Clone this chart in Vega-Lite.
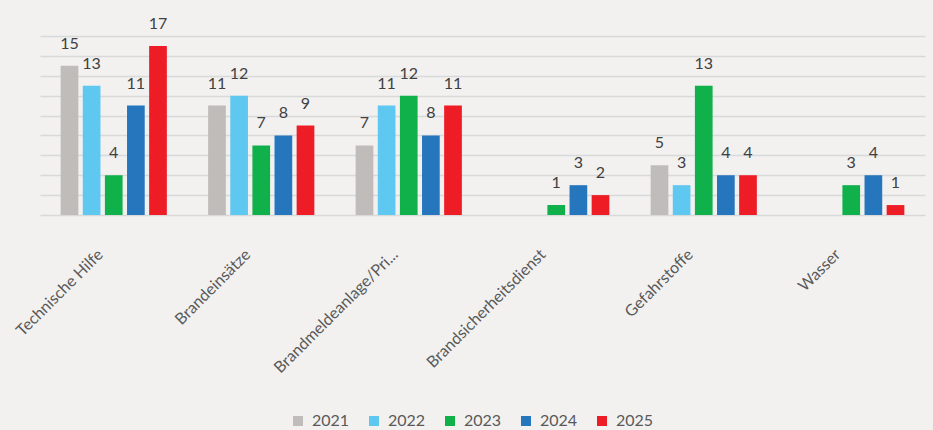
{
  "$schema": "https://vega.github.io/schema/vega-lite/v6.json",
  "width": 885,
  "height": 179,
  "autosize": {"type": "none"},
  "padding": {"left": 40, "top": 36, "right": 8, "bottom": 215},
  "background": "#f2f1f0",
  "config": {"view": {"stroke": null}, "font": "Lato"},
  "data": {
    "values": [
      {"category": "Technische Hilfe", "year": "2021", "value": 15},
      {"category": "Technische Hilfe", "year": "2022", "value": 13},
      {"category": "Technische Hilfe", "year": "2023", "value": 4},
      {"category": "Technische Hilfe", "year": "2024", "value": 11},
      {"category": "Technische Hilfe", "year": "2025", "value": 17},
      {"category": "Brandeinsätze", "year": "2021", "value": 11},
      {"category": "Brandeinsätze", "year": "2022", "value": 12},
      {"category": "Brandeinsätze", "year": "2023", "value": 7},
      {"category": "Brandeinsätze", "year": "2024", "value": 8},
      {"category": "Brandeinsätze", "year": "2025", "value": 9},
      {"category": "Brandmeldeanlage/Pri...", "year": "2021", "value": 7},
      {"category": "Brandmeldeanlage/Pri...", "year": "2022", "value": 11},
      {"category": "Brandmeldeanlage/Pri...", "year": "2023", "value": 12},
      {"category": "Brandmeldeanlage/Pri...", "year": "2024", "value": 8},
      {"category": "Brandmeldeanlage/Pri...", "year": "2025", "value": 11},
      {"category": "Brandsicherheitsdienst", "year": "2023", "value": 1},
      {"category": "Brandsicherheitsdienst", "year": "2024", "value": 3},
      {"category": "Brandsicherheitsdienst", "year": "2025", "value": 2},
      {"category": "Gefahrstoffe", "year": "2021", "value": 5},
      {"category": "Gefahrstoffe", "year": "2022", "value": 3},
      {"category": "Gefahrstoffe", "year": "2023", "value": 13},
      {"category": "Gefahrstoffe", "year": "2024", "value": 4},
      {"category": "Gefahrstoffe", "year": "2025", "value": 4},
      {"category": "Wasser", "year": "2023", "value": 3},
      {"category": "Wasser", "year": "2024", "value": 4},
      {"category": "Wasser", "year": "2025", "value": 1}
    ]
  },
  "encoding": {
    "x": {
      "field": "category",
      "type": "nominal",
      "sort": ["Technische Hilfe", "Brandeinsätze", "Brandmeldeanlage/Pri...", "Brandsicherheitsdienst", "Gefahrstoffe", "Wasser"],
      "scale": {"paddingInner": 0.28, "paddingOuter": 0.14},
      "axis": {
        "title": null,
        "labelAngle": -45,
        "labelFontSize": 16,
        "labelColor": "#595959",
        "ticks": false,
        "domain": false,
        "labelPadding": 31,
        "labelOffset": -19,
        "labelLimit": 300
      }
    },
    "xOffset": {
      "field": "year",
      "type": "nominal",
      "scale": {"domain": ["2021", "2022", "2023", "2024", "2025"], "paddingInner": 0.2}
    },
    "y": {
      "field": "value",
      "type": "quantitative",
      "scale": {"domain": [0, 18]},
      "axis": {
        "title": null,
        "labels": false,
        "ticks": false,
        "domain": false,
        "values": [0, 2, 4, 6, 8, 10, 12, 14, 16, 18],
        "gridColor": "#d9d9d9",
        "gridWidth": 1.5
      }
    }
  },
  "layer": [
    {
      "mark": {"type": "bar"},
      "encoding": {
        "color": {
          "field": "year",
          "type": "nominal",
          "scale": {
            "domain": ["2021", "2022", "2023", "2024", "2025"],
            "range": ["#bfbcba", "#5ec8f0", "#10b04b", "#2676be", "#ee1c25"]
          },
          "legend": {
            "title": null,
            "orient": "none",
            "direction": "horizontal",
            "legendX": 250,
            "legendY": 377,
            "symbolType": "square",
            "symbolSize": 100,
            "symbolStrokeWidth": 0,
            "labelFontSize": 16,
            "labelColor": "#595959",
            "labelOffset": 6,
            "columnPadding": 16
          }
        }
      }
    },
    {
      "mark": {"type": "text", "dy": -17, "baseline": "alphabetic", "fontSize": 16, "color": "#404040"},
      "encoding": {"text": {"field": "value", "type": "quantitative"}}
    }
  ]
}
